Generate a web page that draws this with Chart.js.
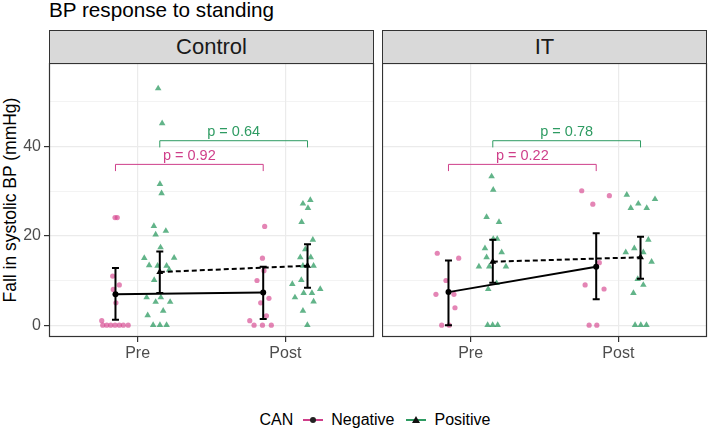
<!DOCTYPE html>
<html>
<head>
<meta charset="utf-8">
<script src="https://cdn.jsdelivr.net/npm/chart.js@4.4.1/dist/chart.umd.min.js"></script>
<style>
  body { margin: 0; background: #fff; font-family: "Liberation Sans", Arial, sans-serif; }
  #wrap { position: relative; width: 709px; height: 430px; overflow: hidden; }
  #title { position: absolute; left: 49px; top: 0; font-size: 20.7px; line-height: 20px; color: #000; }
  .strip { position: absolute; top: 30px; height: 34px; width: 325px; background: #d9d9d9; border: 1px solid #333;
           box-sizing: border-box; text-align: center; line-height: 32px; font-size: 22px; color: #1a1a1a; }
  #ytitle { position: absolute; left: -140px; top: 190px; width: 300px; height: 20px; line-height: 20px; text-align: center;
            font-size: 17.5px; transform: rotate(-90deg); color: #000; }
  canvas { position: absolute; }
  #legend { position: absolute; left: 49px; width: 658px; top: 412px; height: 16px; display: flex; justify-content: center;
            align-items: center; font-size: 16px; line-height: 16px; color: #000; }
  #legend span { margin-right: 6px; }
  #legend svg { margin-right: 8px; }
</style>
</head>
<body>
<div id="wrap">
  <div id="title">BP response to standing</div>
  <div class="strip" style="left:49px">Control</div>
  <div class="strip" style="left:382px">IT</div>
  <div id="ytitle">Fall in systolic BP (mmHg)</div>
  <canvas id="ctrl" width="376" height="304" style="left:0;top:63px"></canvas>
  <canvas id="it" width="327" height="304" style="left:382px;top:63px"></canvas>
  <div id="legend">
    <span style="margin-right:10px">CAN</span>
    <svg width="20" height="12"><line x1="0" y1="6" x2="20" y2="6" stroke="#cf3f8a" stroke-width="2"/><circle cx="10" cy="6" r="3" fill="#222"/></svg>
    <span style="margin-right:12px">Negative</span>
    <svg width="20" height="12"><line x1="0" y1="6" x2="20" y2="6" stroke="#2e9b62" stroke-width="2"/><polygon points="10,2 14,9 6,9" fill="#111"/></svg>
    <span>Positive</span>
  </div>
</div>
<script>
const categories = ["Pre", "Post"];

// raw points [x, y]; x in category units (Pre = 1, Post = 2), jitter
const ctrlNeg = [[0.847,24.1],[0.862,24.1],[0.831,11],[0.835,8],[0.876,9],[0.853,5],[0.757,1],
  [0.764,0],[0.791,0],[0.818,0],[0.847,0],[0.876,0],[0.903,0],[0.936,0],
  [1.860,22.1],[1.845,15],[1.855,12.2],[1.808,10],[1.889,6],[1.833,5],[1.872,2.1],[1.759,1],
  [1.788,0],[1.845,0],[1.905,0]];
const ctrlPos = [[1.139,53],[1.166,45.2],[1.151,31.6],[1.162,29.5],[1.110,22.2],[1.191,21.1],[1.122,20.3],
  [1.155,17.4],[1.045,15],[1.247,15.1],[1.078,13.4],[1.135,13.3],[1.196,13.3],[1.214,12.4],[1.112,10.1],
  [1.061,6.2],[1.157,6.2],[1.122,5.2],[1.220,5.2],[1.173,3.2],[1.068,2.2],[1.105,0],[1.151,0],[1.196,0],
  [2.119,27.2],[2.169,28],[2.153,26.2],[2.110,23.1],[2.186,19.1],[2.135,17],[2.101,15.2],[2.172,15.2],
  [2.119,13.3],[2.191,13.3],[2.108,10.1],[2.047,9.2],[2.236,8.1],[2.065,6.2],[2.124,7.2],[2.180,7.2],
  [2.191,5.3],[2.119,3.2],[2.149,0]];
const itNeg = [[0.774,16.1],[0.919,15],[0.833,10],[0.887,6.9],[0.765,6.9],[0.894,3.9],[0.804,0],[0.855,0],
  [1.752,30.1],[1.939,29],[1.827,27.1],[1.871,14],[1.775,9],[1.903,8.1],[1.802,0],[1.854,0]];
const itPos = [[1.142,33.3],[1.153,30.3],[1.108,24.2],[1.192,23.1],[1.153,19.3],[1.180,19.3],[1.097,17.2],
  [1.210,16.3],[1.108,15.2],[1.056,13.1],[1.126,13.1],[1.239,13.1],[1.176,9.4],[1.119,8.1],
  [1.115,0],[1.149,0],[1.183,0],
  [2.057,29.2],[2.135,27.2],[2.248,28.2],[2.084,26.2],[2.192,26.2],[2.203,19.1],[2.108,17.2],[2.050,16.3],
  [2.169,16.3],[2.225,14.2],[2.131,10.3],[2.169,9],[2.102,7.2],[2.113,0],[2.152,0],[2.190,0]];

// means with error bars, Pre / Post
const ctrlNegMean = [6.9, 7.3],  ctrlNegLo = [1.2, 1.4],  ctrlNegHi = [12.8, 13.1];
const ctrlPosMean = [11.9, 13.3], ctrlPosLo = [7.2, 8.4],  ctrlPosHi = [16.5, 18.1];
const itNegMean = [7.4, 13.1],   itNegLo = [0, 5.8],      itNegHi = [14.5, 20.6];
const itPosMean = [14.2, 15.2],  itPosLo = [9.5, 10.4],   itPosHi = [19.1, 19.8];

// p value brackets: [Negative, Positive]
const ctrlP = ["p = 0.92", "p = 0.64"];
const itP = ["p = 0.22", "p = 0.78"];
const bracketY = [36.0, 41.3];
const bracketTip = [34.5, 39.8];

const pink = "#cf3f8a", green = "#2e9b62";
const dodge = 0.15;

Chart.defaults.font.family = '"Liberation Sans", Arial, sans-serif';

function overlay(negLo, negHi, posLo, posHi, pLabels) {
  return {
    id: "overlay",
    afterDatasetsDraw(chart) {
      const { ctx, chartArea: a, scales: { x, y } } = chart;
      ctx.save();
      ctx.strokeStyle = "#000";
      ctx.lineWidth = 2;
      [[negLo, negHi, -dodge], [posLo, posHi, dodge]].forEach(([lo, hi, d]) => {
        lo.forEach((l, i) => {
          const px = x.getPixelForValue(i + 1 + d);
          const p1 = y.getPixelForValue(l), p2 = y.getPixelForValue(hi[i]);
          ctx.beginPath();
          ctx.moveTo(px, p1); ctx.lineTo(px, p2);
          ctx.moveTo(px - 3.5, p1); ctx.lineTo(px + 3.5, p1);
          ctx.moveTo(px - 3.5, p2); ctx.lineTo(px + 3.5, p2);
          ctx.stroke();
        });
      });
      // brackets
      ctx.lineWidth = 1;
      ctx.font = '14.5px "Liberation Sans", Arial, sans-serif';
      ctx.textAlign = "center";
      ctx.textBaseline = "alphabetic";
      [[pink, -dodge], [green, dodge]].forEach(([col, d], k) => {
        const x1 = x.getPixelForValue(1 + d), x2 = x.getPixelForValue(2 + d);
        const yb = y.getPixelForValue(bracketY[k]), yt = y.getPixelForValue(bracketTip[k]);
        ctx.strokeStyle = col;
        ctx.beginPath();
        ctx.moveTo(x1, yt); ctx.lineTo(x1, yb); ctx.lineTo(x2, yb); ctx.lineTo(x2, yt);
        ctx.stroke();
        ctx.fillStyle = col;
        ctx.fillText(pLabels[k], (x1 + x2) / 2, yb - 4.5);
      });
      // panel border
      ctx.strokeStyle = "#333";
      ctx.lineWidth = 1.2;
      ctx.strokeRect(a.left + 0.5, a.top + 0.5, a.width - 1, a.height - 1);
      ctx.restore();
    }
  };
}

function panel(id, neg, pos, negM, negLo, negHi, posM, posLo, posHi, pLabels, showY) {
  return new Chart(id, {
    type: "scatter",
    data: {
      datasets: [
        { data: neg.map(p => ({ x: p[0], y: p[1] })), pointStyle: "circle", pointRadius: 2.6,
          pointBackgroundColor: "rgba(214,68,142,0.65)", pointBorderWidth: 0, order: 4 },
        { data: pos.map(p => ({ x: p[0], y: p[1] })), pointStyle: "triangle", pointRadius: 3.8,
          pointBackgroundColor: "rgba(46,155,98,0.75)", pointBorderWidth: 0, order: 3 },
        { data: negM.map((v, i) => ({ x: i + 1 - dodge, y: v })), showLine: true, borderColor: "#000", borderWidth: 2,
          pointStyle: "circle", pointRadius: 3, pointBackgroundColor: "#000", pointBorderWidth: 0, order: 2 },
        { data: posM.map((v, i) => ({ x: i + 1 + dodge, y: v })), showLine: true, borderColor: "#000", borderWidth: 2,
          borderDash: [5, 3], pointStyle: "triangle", pointRadius: 4, pointBackgroundColor: "#000", pointBorderWidth: 0, order: 1 }
      ]
    },
    options: {
      responsive: false,
      animation: false,
      devicePixelRatio: 1,
      layout: { autoPadding: false, padding: { left: 0, right: 2, top: 0, bottom: 0 } },
      plugins: { legend: { display: false }, tooltip: { enabled: false } },
      scales: {
        x: {
          type: "linear", min: 0.4, max: 2.6,
          afterBuildTicks: s => { s.ticks = categories.map((c, i) => ({ value: i + 1 })); },
          afterFit: s => { s.height = 30; s.paddingLeft = 0; s.paddingRight = 0; },
          border: { display: false },
          grid: { color: "#ebebeb", lineWidth: 1.2, tickLength: 5, tickColor: "#333" },
          ticks: { padding: 2, color: "#4d4d4d", font: { size: 16 }, maxRotation: 0, autoSkip: false,
                   callback: v => categories[Math.round(v) - 1] || "" }
        },
        y: {
          min: -2.65, max: 58.7,
          afterFit: s => { s.width = showY ? 49 : 0; s.paddingTop = 0; s.paddingBottom = 0; },
          border: { display: false },
          grid: {
            color: "#ebebeb",
            lineWidth: c => (c.tick && c.tick.value % 20 === 0) ? 1.2 : 0.6,
            tickLength: 5,
            tickColor: c => (showY && c.tick && c.tick.value % 20 === 0) ? "#333" : "rgba(0,0,0,0)"
          },
          ticks: { stepSize: 10, includeBounds: false, display: showY, padding: 3, color: "#4d4d4d",
                   font: { size: 16 }, callback: v => v % 20 === 0 ? v : "" }
        }
      }
    },
    plugins: [overlay(negLo, negHi, posLo, posHi, pLabels)]
  });
}

panel("ctrl", ctrlNeg, ctrlPos, ctrlNegMean, ctrlNegLo, ctrlNegHi, ctrlPosMean, ctrlPosLo, ctrlPosHi, ctrlP, true);
panel("it", itNeg, itPos, itNegMean, itNegLo, itNegHi, itPosMean, itPosLo, itPosHi, itP, false);
</script>
</body>
</html>
